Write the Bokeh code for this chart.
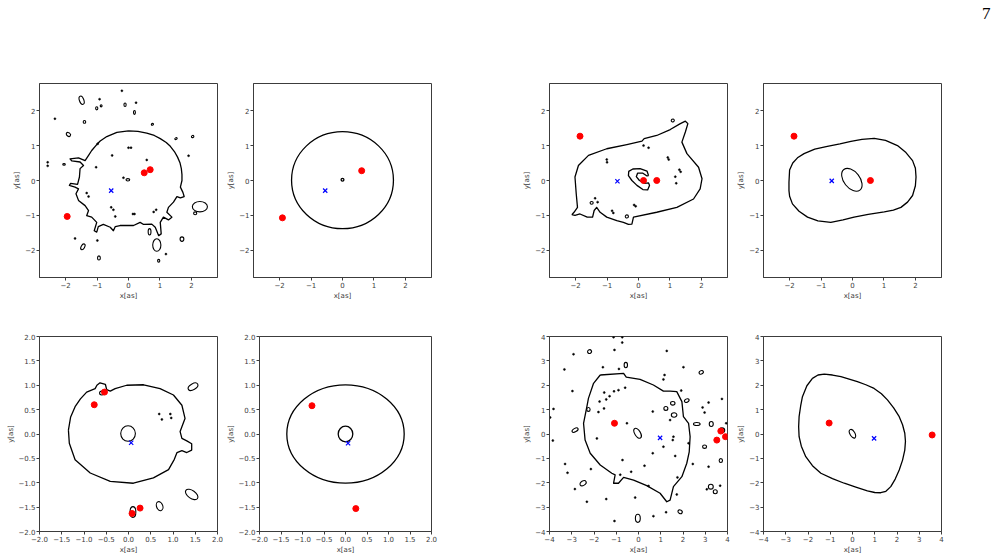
from bokeh.plotting import figure
from bokeh.layouts import row, column
from bokeh.models import FixedTicker, CustomJSTickFormatter, Div, Spacer
from bokeh.embed import file_html
from bokeh.resources import INLINE

# ---------------- tick definitions ----------------
ticks_top = [-2, -1, 0, 1, 2]
labels_top = ["\u22122", "\u22121", "0", "1", "2"]
ticks_p56 = [-2.0, -1.5, -1.0, -0.5, 0.0, 0.5, 1.0, 1.5, 2.0]
labels_p56 = ["\u22122.0", "\u22121.5", "\u22121.0", "\u22120.5", "0.0", "0.5", "1.0", "1.5", "2.0"]
ticks_p78 = [-4, -3, -2, -1, 0, 1, 2, 3, 4]
labels_p78 = ["\u22124", "\u22123", "\u22122", "\u22121", "0", "1", "2", "3", "4"]
page_number = "7"

# ---------------- panel 1 ----------------
p1_curve_x = [0.00, 0.30, 0.58, 0.82, 1.01, 1.20, 1.33, 1.46, 1.56, 1.64, 1.68, 1.70, 1.70, 1.65, 1.73, 1.77, 1.65, 1.54, 1.43, 1.27, 1.22, 1.38, 1.27, 1.11, 1.01, 1.04, 0.96, 0.85, 0.74, 0.48, 0.37, 0.16, -0.27, -0.42, -0.48, -0.58, -0.80, -0.96, -1.01, -1.09, -1.01, -1.17, -1.33, -1.27, -1.38, -1.59, -1.67, -1.59, -1.70, -1.88, -1.84, -1.62, -1.56, -1.54, -1.43, -1.54, -1.80, -1.86, -1.59, -1.38, -1.27, -1.17, -1.01, -0.90, -0.69, -0.37, 0.00]
p1_curve_y = [1.42, 1.41, 1.36, 1.29, 1.20, 1.09, 0.98, 0.83, 0.67, 0.50, 0.34, 0.17, 0.00, -0.19, -0.34, -0.46, -0.50, -0.46, -0.62, -0.77, -0.91, -1.05, -1.13, -1.05, -1.20, -1.53, -1.58, -1.34, -1.25, -1.26, -1.20, -1.29, -1.29, -1.32, -1.44, -1.34, -1.26, -1.32, -1.48, -1.44, -1.20, -1.05, -1.01, -0.86, -0.72, -0.57, -0.38, -0.24, -0.19, -0.14, -0.08, -0.11, 0.10, 0.34, 0.43, 0.53, 0.56, 0.62, 0.65, 0.57, 0.72, 0.86, 1.03, 1.13, 1.26, 1.38, 1.42]
p1_loop_x = [-1.49, -1.01, -0.11, 0.19, -1.40, -1.91, 0.76, 1.51, 2.04, -2.05, -0.02, 2.27, 2.12, 0.67, 0.90, 1.70, 0.96, -1.45, -0.94, -0.87]
p1_loop_y = [2.30, 2.07, 2.17, 1.95, 1.68, 1.32, 1.61, 1.20, 1.26, 0.46, 0.02, -0.75, -0.94, -1.47, -1.85, -1.68, -2.30, -1.90, -2.22, 2.14]
p1_loop_w = [0.14, 0.07, 0.07, 0.06, 0.08, 0.15, 0.07, 0.08, 0.08, 0.08, 0.12, 0.48, 0.10, 0.09, 0.26, 0.12, 0.07, 0.11, 0.09, 0.06]
p1_loop_h = [0.25, 0.09, 0.10, 0.11, 0.08, 0.10, 0.05, 0.05, 0.06, 0.05, 0.07, 0.30, 0.08, 0.18, 0.36, 0.13, 0.08, 0.18, 0.12, 0.06]
p1_loop_a = [20, 0, 0, 0, 0, -40, 30, 30, 30, 0, 0, 0, 0, 0, 0, 0, 0, -30, 0, 0]
p1_dot_x = [-0.21, -0.92, 0.24, -2.34, 1.91, -2.57, -2.57, -0.98, 0.00, 0.08, -0.52, 0.58, -1.03, -0.16, -1.33, -1.27, -0.55, -0.48, -0.42, 0.14, 0.19, 0.88, 0.80, 1.19, -1.70, -0.99]
p1_dot_y = [2.57, 2.33, 2.23, 1.77, 0.71, 0.52, 0.42, 1.05, 0.94, 0.94, 0.72, 0.59, 0.38, 0.08, -0.36, -0.46, -0.77, -0.84, -1.03, -0.96, -0.96, -0.84, -0.90, -2.11, -1.66, -1.72]
p1_red_x = [0.69, 0.50, -1.95]
p1_red_y = [0.31, 0.22, -1.03]
p1_src_x = [-0.55]
p1_src_y = [-0.29]

# ---------------- panel 2 ----------------
p2_loop_x = [0.00, 0.00]
p2_loop_y = [0.01, 0.02]
p2_loop_w = [3.24, 0.09]
p2_loop_h = [2.78, 0.08]
p2_loop_a = [0, 0]
p2_red_x = [0.61, -1.91]
p2_red_y = [0.28, -1.07]
p2_src_x = [-0.55]
p2_src_y = [-0.29]

# ---------------- panel 3 ----------------
p3_curve_x = [-2.12, -2.05, -1.94, -1.98, -2.02, -1.91, -1.59, -1.01, -0.37, 0.11, 0.18, 0.58, 1.01, 1.33, 1.49, 1.57, 1.49, 1.38, 1.54, 1.91, 2.02, 1.96, 1.75, 1.22, 0.58, -0.16, -0.21, -0.32, -0.48, -0.69, -1.01, -1.22, -1.33, -1.41, -1.46, -1.63, -1.86, -2.02, -2.12]
p3_curve_y = [-0.98, -0.91, -0.77, -0.38, 0.10, 0.43, 0.72, 0.91, 1.03, 1.13, 1.20, 1.29, 1.46, 1.63, 1.70, 1.63, 1.39, 1.10, 0.77, 0.38, 0.05, -0.24, -0.53, -0.77, -0.91, -1.05, -1.25, -1.26, -1.20, -1.15, -1.05, -0.91, -0.77, -0.86, -1.05, -1.05, -0.96, -1.00, -0.98]
p3_inner_x = [0.32, 0.27, 0.05, -0.18, -0.31, -0.32, -0.21, -0.05, 0.14, 0.29, 0.35, 0.32, 0.18, 0.03, -0.07, -0.03, 0.14, 0.27, 0.32]
p3_inner_y = [0.14, 0.27, 0.34, 0.33, 0.26, 0.14, 0.00, -0.14, -0.26, -0.27, -0.14, -0.07, -0.08, 0.00, 0.11, 0.21, 0.21, 0.13, 0.14]
p3_loop_x = [1.09, -1.49, -0.37]
p3_loop_y = [1.72, -0.64, -1.03]
p3_loop_w = [0.10, 0.10, 0.10]
p3_loop_h = [0.08, 0.08, 0.09]
p3_loop_a = [30, 0, 0]
p3_dot_x = [0.16, 0.32, -1.01, -1.00, 0.93, 0.96, 1.17, 1.20, 1.30, 1.34, -1.38, -1.30, -0.84, -0.80, -0.14, -0.09]
p3_dot_y = [1.00, 0.94, 0.60, 0.52, 0.66, 0.60, 0.11, -0.08, 0.31, 0.25, -0.51, -0.62, -0.87, -0.93, -0.70, -0.74]
p3_red_x = [-1.86, 0.16, 0.58]
p3_red_y = [1.27, 0.00, 0.00]
p3_src_x = [-0.67]
p3_src_y = [-0.02]

# ---------------- panel 4 ----------------
p4_curve_x = [-2.02, -2.00, -1.90, -1.75, -1.54, -1.20, -0.80, -0.40, -0.05, 0.30, 0.69, 1.05, 1.43, 1.70, 1.91, 2.00, 2.02, 2.00, 1.91, 1.75, 1.54, 1.30, 1.01, 0.50, 0.05, -0.30, -0.69, -1.10, -1.43, -1.70, -1.91, -2.00, -2.02, -2.02]
p4_curve_y = [-0.05, 0.30, 0.50, 0.65, 0.77, 0.90, 0.98, 1.05, 1.12, 1.18, 1.21, 1.15, 1.00, 0.80, 0.57, 0.35, 0.10, -0.15, -0.43, -0.62, -0.77, -0.85, -0.90, -0.97, -1.05, -1.13, -1.20, -1.16, -1.05, -0.88, -0.67, -0.45, -0.29, -0.05]
p4_loop_x = [-0.02]
p4_loop_y = [0.02]
p4_loop_w = [0.83]
p4_loop_h = [0.46]
p4_loop_a = [-52]
p4_red_x = [-1.86, 0.57]
p4_red_y = [1.27, 0.00]
p4_src_x = [-0.66]
p4_src_y = [-0.01]

# ---------------- panel 5 ----------------
p5_curve_x = [-1.35, -1.30, -1.20, -1.08, -0.94, -0.75, -0.71, -0.64, -0.52, -0.49, -0.41, -0.30, -0.04, 0.34, 0.71, 1.01, 1.20, 1.27, 1.20, 1.16, 1.20, 1.31, 1.42, 1.42, 1.31, 1.20, 1.09, 1.03, 0.90, 0.56, 0.11, -0.41, -0.86, -1.20, -1.33, -1.35]
p5_curve_y = [0.08, 0.35, 0.56, 0.72, 0.86, 0.93, 1.00, 1.05, 1.02, 0.91, 0.88, 0.93, 1.00, 1.01, 0.93, 0.80, 0.59, 0.32, 0.15, 0.05, -0.09, -0.14, -0.20, -0.33, -0.38, -0.34, -0.38, -0.52, -0.73, -0.90, -1.01, -0.97, -0.80, -0.53, -0.19, 0.08]
p5_loop_x = [-0.01, -0.60, 1.45, 1.42, 0.70, 0.10]
p5_loop_y = [0.01, 0.84, 0.97, -1.24, -1.48, -1.60]
p5_loop_w = [0.33, 0.10, 0.24, 0.32, 0.14, 0.13]
p5_loop_h = [0.32, 0.08, 0.12, 0.16, 0.19, 0.22]
p5_loop_a = [0, 0, 30, -35, 20, 0]
p5_dot_x = [0.69, 0.75, 0.94, 0.96]
p5_dot_y = [0.41, 0.30, 0.41, 0.33]
p5_red_x = [-0.77, -0.54, 0.26, 0.08]
p5_red_y = [0.60, 0.86, -1.52, -1.63]
p5_src_x = [0.06]
p5_src_y = [-0.18]

# ---------------- panel 6 ----------------
p6_loop_x = [0.00, 0.00]
p6_loop_y = [0.00, 0.00]
p6_loop_w = [2.73, 0.34]
p6_loop_h = [2.02, 0.32]
p6_loop_a = [0, 0]
p6_red_x = [-0.78, 0.24]
p6_red_y = [0.58, -1.53]
p6_src_x = [0.06]
p6_src_y = [-0.19]

# ---------------- panel 7 ----------------
p7_curve_x = [-1.72, -0.67, -0.55, 0.07, 0.67, 1.12, 1.42, 1.72, 1.95, 2.02, 2.25, 2.32, 2.28, 2.17, 1.95, 1.57, 1.42, 1.27, 0.97, 0.37, -0.22, -0.67, -0.90, -1.12, -1.05, -1.20, -1.72, -2.17, -2.40, -2.47, -2.32, -2.25, -2.02, -1.72]
p7_curve_y = [2.42, 2.49, 2.33, 2.24, 2.01, 1.76, 1.76, 1.74, 1.33, 0.71, 0.44, -0.11, -0.73, -1.20, -1.75, -2.16, -2.71, -2.78, -2.43, -2.12, -1.89, -1.78, -2.02, -2.02, -1.68, -1.61, -1.27, -0.79, -0.25, 0.44, 1.12, 1.46, 2.08, 2.42]
p7_loop_x = [-0.04, -2.20, -0.57, 2.82, 2.17, 1.54, 1.60, 2.62, 3.27, -2.85, -2.49, -0.03, 1.87, 2.97, 3.70, 3.25, 3.45, 1.23, -2.25, 3.75]
p7_loop_y = [0.03, 3.38, 2.83, 2.53, 1.37, 1.26, 0.78, 0.41, 0.41, 0.16, -2.02, -3.46, -3.19, -0.52, -1.09, -2.16, -2.37, 1.05, 1.01, 0.15]
p7_loop_w = [0.50, 0.18, 0.15, 0.20, 0.22, 0.20, 0.25, 0.30, 0.18, 0.30, 0.30, 0.22, 0.20, 0.18, 0.15, 0.22, 0.18, 0.18, 0.15, 0.25]
p7_loop_h = [0.23, 0.15, 0.22, 0.14, 0.14, 0.15, 0.18, 0.12, 0.20, 0.14, 0.18, 0.33, 0.15, 0.14, 0.16, 0.20, 0.16, 0.16, 0.16, 0.20]
p7_loop_a = [-60, 30, 0, 30, 30, 0, 0, 0, 0, 30, 30, 0, -30, 0, 0, 0, 0, 0, 0, 0]
p7_dot_x = [-1.12, -0.73, -0.73, -2.92, -1.08, 1.27, -3.33, -1.60, -0.88, 2.02, -2.97, 1.12, 1.17, 1.92, 3.15, 3.75, 2.88, 2.97, 3.94, -3.82, -3.97, -3.85, -1.87, -3.30, -3.19, -2.14, -2.86, -2.32, -1.45, -0.15, 0.67, 1.24, -1.08, 1.75, 1.72, 2.44, 3.15, 3.07, 3.67, 1.57, 1.54, 1.65, 0.64, 0.27, -0.33, -0.72, 1.12, -0.52, 0.64, 1.42, -0.82, 2.25, 0.45, -1.75, -1.54, -1.45, -1.10, -0.90, -0.60, -1.30, -1.55, -1.80]
p7_dot_y = [3.97, 3.97, 3.75, 3.27, 3.45, 3.41, 2.65, 2.74, 2.67, 2.74, 1.76, 2.24, 2.42, 1.78, 1.29, 1.44, 1.09, 0.88, 0.44, 1.03, 0.68, -0.27, -0.18, -1.23, -1.59, -1.44, -2.26, -2.78, -2.67, -2.61, -3.37, -3.21, -3.57, -1.78, -2.48, -1.23, -1.34, -2.27, -2.12, -0.11, -0.25, -0.90, -0.79, -1.30, -1.55, -1.07, -0.52, 0.44, 0.92, 0.57, -1.67, -0.38, -2.13, 1.33, 1.70, 1.42, 1.75, 1.80, 1.90, 1.55, 1.05, 0.90]
p7_red_x = [-1.08, 3.70, 3.91, 3.52]
p7_red_y = [0.44, 0.12, -0.11, -0.25]
p7_src_x = [0.97]
p7_src_y = [-0.16]

# ---------------- panel 8 ----------------
p8_curve_x = [-1.80, -1.55, -1.27, -0.90, -0.52, -0.15, 0.22, 0.60, 0.97, 1.30, 1.57, 1.85, 2.10, 2.25, 2.35, 2.38, 2.35, 2.25, 2.10, 1.92, 1.72, 1.50, 1.27, 1.00, 0.67, 0.15, -0.37, -0.90, -1.42, -1.80, -2.10, -2.30, -2.40, -2.42, -2.40, -2.33, -2.25, -2.05, -1.80]
p8_curve_y = [2.28, 2.42, 2.46, 2.42, 2.35, 2.25, 2.15, 2.02, 1.87, 1.65, 1.40, 1.07, 0.71, 0.38, 0.03, -0.30, -0.66, -1.07, -1.48, -1.85, -2.16, -2.35, -2.41, -2.40, -2.33, -2.18, -2.02, -1.83, -1.61, -1.30, -0.93, -0.50, -0.11, 0.30, 0.71, 1.15, 1.53, 1.98, 2.28]
p8_loop_x = [0.00]
p8_loop_y = [0.01]
p8_loop_w = [0.43]
p8_loop_h = [0.20]
p8_loop_a = [-60]
p8_red_x = [-1.05, 3.58]
p8_red_y = [0.45, -0.04]
p8_src_x = [0.97]
p8_src_y = [-0.18]

FONT = "DejaVu Sans"
FRAME_COL = "#3c3c3c"
TEXT_COL = "#3c3c3c"

FMT_CODE = """
    for (let i = 0; i < tv.length; i++) {
        if (Math.abs(tv[i] - tick) < 1e-9) { return tl[i]; }
    }
    return "";
"""


def make_fig(w, h, L, R, T, B, xr, yr, xt, xl, yt, yl):
    p = figure(width=w, height=h, x_range=xr, y_range=yr,
               min_border_left=L, min_border_right=R,
               min_border_top=T, min_border_bottom=B,
               output_backend="svg", toolbar_location=None, tools="")
    p.grid.visible = False
    p.outline_line_color = FRAME_COL
    p.outline_line_width = 1
    p.background_fill_color = "white"
    p.border_fill_color = "white"
    p.xaxis.ticker = FixedTicker(ticks=xt)
    p.yaxis.ticker = FixedTicker(ticks=yt)
    p.xaxis.formatter = CustomJSTickFormatter(args=dict(tv=xt, tl=xl), code=FMT_CODE)
    p.yaxis.formatter = CustomJSTickFormatter(args=dict(tv=yt, tl=yl), code=FMT_CODE)
    p.xaxis.axis_label = "x[as]"
    p.yaxis.axis_label = "y[as]"
    for ax in (p.xaxis, p.yaxis):
        ax.axis_line_color = FRAME_COL
        ax.major_tick_line_color = FRAME_COL
        ax.major_tick_in = 0
        ax.major_tick_out = 3
        ax.minor_tick_line_color = None
        ax.major_label_text_font = FONT
        ax.major_label_text_font_size = "7px"
        ax.major_label_text_color = TEXT_COL
        ax.major_label_standoff = 1
        ax.axis_label_text_font = FONT
        ax.axis_label_text_font_size = "7px"
        ax.axis_label_text_font_style = "normal"
        ax.axis_label_text_color = TEXT_COL
        ax.axis_label_standoff = 1
    return p


def add_marks(p, red_x, red_y, src_x, src_y):
    p.scatter(red_x, red_y, marker="circle", size=6, fill_color="red", line_color="red")
    p.scatter(src_x, src_y, marker="x", size=6, line_color="blue", line_width=1.2)


def add_loops(p, lx, ly, lw, lh, la):
    p.ellipse(x=lx, y=ly, width=lw, height=lh, angle=la, angle_units="deg",
              fill_color=None, line_color="black", line_width=1.1)


def add_dots(p, dx, dy):
    p.scatter(dx, dy, marker="circle", size=2.0, fill_color="black", line_color="black", line_width=0.5)


LW = 1.3
xr_top = (-2.83, 2.83)
yr_top = (-2.78, 2.78)

TOP_H = 277
BOT_H = 252
HDR_H = 30

f1 = make_fig(223, TOP_H, 39, 6, 53, 30, xr_top, yr_top, ticks_top, labels_top, ticks_top, labels_top)
f1.line(p1_curve_x, p1_curve_y, line_color="black", line_width=LW, line_join="round")
add_loops(f1, p1_loop_x, p1_loop_y, p1_loop_w, p1_loop_h, p1_loop_a)
add_dots(f1, p1_dot_x, p1_dot_y)
add_marks(f1, p1_red_x, p1_red_y, p1_src_x, p1_src_y)

f2 = make_fig(216, TOP_H, 30, 8, 53, 30, xr_top, yr_top, ticks_top, labels_top, ticks_top, labels_top)
f2.ellipse(x=p2_loop_x, y=p2_loop_y, width=p2_loop_w, height=p2_loop_h, angle=p2_loop_a,
           fill_color=None, line_color="black", line_width=LW)
add_marks(f2, p2_red_x, p2_red_y, p2_src_x, p2_src_y)

f3 = make_fig(294, TOP_H, 110, 6, 53, 30, xr_top, yr_top, ticks_top, labels_top, ticks_top, labels_top)
f3.line(p3_curve_x, p3_curve_y, line_color="black", line_width=LW, line_join="round")
f3.line(p3_inner_x, p3_inner_y, line_color="black", line_width=LW, line_join="round")
add_loops(f3, p3_loop_x, p3_loop_y, p3_loop_w, p3_loop_h, p3_loop_a)
add_dots(f3, p3_dot_x, p3_dot_y)
add_marks(f3, p3_red_x, p3_red_y, p3_src_x, p3_src_y)

f4 = make_fig(264, TOP_H, 30, 56, 53, 30, xr_top, yr_top, ticks_top, labels_top, ticks_top, labels_top)
f4.line(p4_curve_x, p4_curve_y, line_color="black", line_width=LW, line_join="round")
add_loops(f4, p4_loop_x, p4_loop_y, p4_loop_w, p4_loop_h, p4_loop_a)
add_marks(f4, p4_red_x, p4_red_y, p4_src_x, p4_src_y)

xr_56 = (-2.0, 2.0)
xr_78 = (-4.0, 4.0)

f5 = make_fig(223, BOT_H, 39, 6, 29, 28, xr_56, xr_56, ticks_p56, labels_p56, ticks_p56, labels_p56)
f5.line(p5_curve_x, p5_curve_y, line_color="black", line_width=LW, line_join="round")
add_loops(f5, p5_loop_x, p5_loop_y, p5_loop_w, p5_loop_h, p5_loop_a)
add_dots(f5, p5_dot_x, p5_dot_y)
add_marks(f5, p5_red_x, p5_red_y, p5_src_x, p5_src_y)

f6 = make_fig(216, BOT_H, 30, 8, 29, 28, xr_56, xr_56, ticks_p56, labels_p56, ticks_p56, labels_p56)
f6.ellipse(x=p6_loop_x, y=p6_loop_y, width=p6_loop_w, height=p6_loop_h, angle=p6_loop_a,
           fill_color=None, line_color="black", line_width=LW)
add_marks(f6, p6_red_x, p6_red_y, p6_src_x, p6_src_y)

f7 = make_fig(294, BOT_H, 110, 6, 29, 28, xr_78, xr_78, ticks_p78, labels_p78, ticks_p78, labels_p78)
f7.line(p7_curve_x, p7_curve_y, line_color="black", line_width=LW, line_join="round")
add_loops(f7, p7_loop_x, p7_loop_y, p7_loop_w, p7_loop_h, p7_loop_a)
add_dots(f7, p7_dot_x, p7_dot_y)
add_marks(f7, p7_red_x, p7_red_y, p7_src_x, p7_src_y)

f8 = make_fig(264, BOT_H, 30, 56, 29, 28, xr_78, xr_78, ticks_p78, labels_p78, ticks_p78, labels_p78)
f8.line(p8_curve_x, p8_curve_y, line_color="black", line_width=LW, line_join="round")
add_loops(f8, p8_loop_x, p8_loop_y, p8_loop_w, p8_loop_h, p8_loop_a)
add_marks(f8, p8_red_x, p8_red_y, p8_src_x, p8_src_y)

header = Div(text=page_number, width=32, height=HDR_H, margin=0,
             styles={"font-family": "Liberation Serif", "font-size": "17px",
                     "line-height": "17px", "padding-top": "5px", "padding-left": "17px",
                     "color": "black", "box-sizing": "border-box"})

layout = column(row(Spacer(width=965, height=HDR_H, margin=0), header),
                row(f1, f2, f3, f4), row(f5, f6, f7, f8))

html = file_html(layout, INLINE, title="critical curves")
html = html.replace("<head>", "<head><style>html,body{margin:0;padding:0;}</style>", 1)
open("out.html", "w").write(html)
